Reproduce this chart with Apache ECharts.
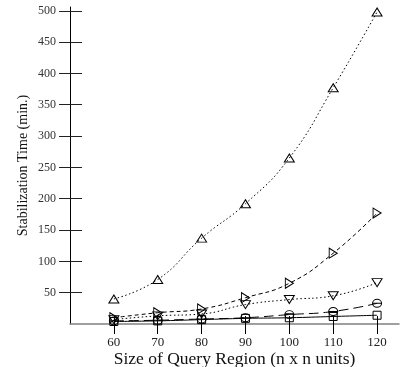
<!DOCTYPE html>
<html>
<head>
<meta charset="utf-8">
<script src="https://cdn.jsdelivr.net/npm/echarts@6/dist/echarts.min.js"></script>
<style>
  html, body { margin: 0; padding: 0; background: #fff; }
  #chart { width: 406px; height: 367px; }
</style>
</head>
<body>
<div id="chart"></div>
<script>
// query region size (n x n units)
const regionSizes = [60, 70, 80, 90, 100, 110, 120]
const yTickValues = [50, 100, 150, 200, 250, 300, 350, 400, 450, 500]

// stabilization time (min.) per series
const upTriangleTimes = [40, 71, 137, 192, 265, 377, 498]
const rightTriangleTimes = [10, 18, 24, 42, 65, 113, 177]
const downTriangleTimes = [7, 13, 16, 31, 39, 45, 66]
const circleTimes = [5, 6, 8, 10, 15, 20, 33]
const squareTimes = [4, 5, 7, 9, 10, 12, 14]

const serif = 'Liberation Serif'
const circleBar = 'path://M0,5a5,5 0 1,0 10,0a5,5 0 1,0 -10,0M0,5L10,5'

function makeSeries(values, symbol, rotate, size, dash) {
  return {
    type: 'line',
    data: regionSizes.map((x, i) => [x, values[i]]),
    smooth: true,
    symbol: symbol,
    symbolRotate: rotate,
    symbolSize: size,
    showAllSymbol: true,
    lineStyle: { color: '#000', width: 1, type: dash },
    itemStyle: { color: 'rgba(0,0,0,0)', borderColor: '#000', borderWidth: 1 },
    emphasis: { disabled: true },
    z: 3,
  }
}

const chart = echarts.init(document.getElementById('chart'), null, { renderer: 'canvas' })

chart.setOption({
  animation: false,
  backgroundColor: '#fff',
  textStyle: { fontFamily: serif },
  grid: { left: 70, right: 7, top: 7, bottom: 43, outerBoundsMode: 'none', containLabel: false },
  xAxis: [
    {
      type: 'value',
      min: 50,
      max: 125,
      name: 'Size of Query Region (n x n units)',
      nameLocation: 'middle',
      nameGap: 26,
      nameMoveOverlap: false,
      nameTextStyle: { fontFamily: serif, fontSize: 17.5, color: '#111' },
      axisLine: { lineStyle: { color: '#808080', width: 1.5 } },
      axisTick: { length: 10, customValues: regionSizes, lineStyle: { color: '#000' } },
      axisLabel: { customValues: regionSizes, fontFamily: serif, fontSize: 13, color: '#222', margin: 12 },
      splitLine: { show: false },
    },
    {
      type: 'value',
      min: 50,
      max: 125,
      position: 'bottom',
      axisLine: { show: false },
      axisTick: { inside: true, length: 8, customValues: regionSizes, lineStyle: { color: '#000' } },
      axisLabel: { show: false },
      splitLine: { show: false },
    },
  ],
  yAxis: [
    {
      type: 'value',
      min: 0,
      max: 506,
      name: 'Stabilization Time (min.)',
      nameLocation: 'middle',
      nameGap: 40,
      nameMoveOverlap: false,
      nameTextStyle: { fontFamily: serif, fontSize: 14, color: '#111' },
      axisLine: { show: true, lineStyle: { color: '#000', width: 1 } },
      axisTick: { length: 11, customValues: yTickValues, lineStyle: { color: '#222' } },
      axisLabel: { customValues: yTickValues, fontFamily: serif, fontSize: 12, color: '#333', margin: 14 },
      splitLine: { show: false },
    },
    {
      type: 'value',
      min: 0,
      max: 506,
      position: 'left',
      axisLine: { show: false },
      axisTick: { inside: true, length: 12, customValues: yTickValues, lineStyle: { color: '#222' } },
      axisLabel: { show: false },
      splitLine: { show: false },
    },
  ],
  series: [
    makeSeries(upTriangleTimes, 'triangle', 0, [10, 8], [1.5, 2.5]),
    makeSeries(rightTriangleTimes, 'triangle', -90, [10, 8], [4, 3]),
    makeSeries(downTriangleTimes, 'triangle', 180, [10, 8], [1.5, 2.5]),
    makeSeries(circleTimes, circleBar, 0, [9, 8], [10, 5]),
    makeSeries(squareTimes, 'rect', 0, 8, 'solid'),
  ],
})
</script>
</body>
</html>
